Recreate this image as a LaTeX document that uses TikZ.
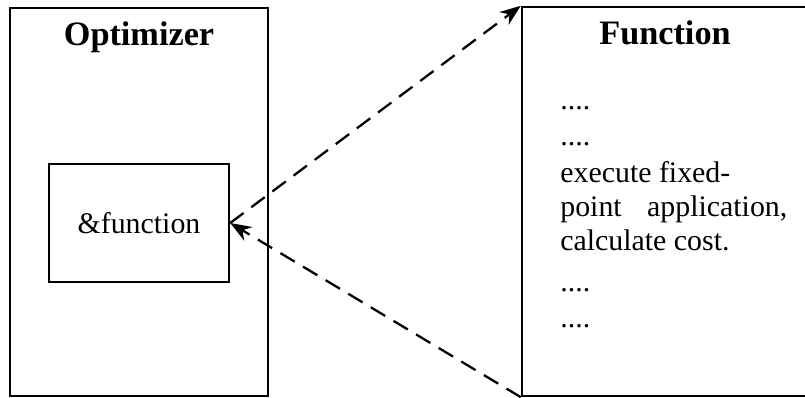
\documentclass[tikz,border=0pt]{standalone}
\usepackage{fontspec}
\setmainfont{Liberation Serif}
\usetikzlibrary{arrows.meta}
\tikzset{
  box/.style={draw,line width=1.4pt,rectangle,inner sep=0pt},
  title/.style={anchor=base,font=\fontsize{19.5}{22}\selectfont\bfseries},
  body/.style={anchor=base west,inner sep=0pt,font=\fontsize{17}{20}\selectfont},
  call/.style={line width=1.3pt,dash pattern=on 9.5pt off 5.5pt,
    -{Stealth[length=12pt,width=9pt]}}
}
\begin{document}
\begin{tikzpicture}[x=0.02cm,y=-0.02cm]
  \useasboundingbox (0,0) rectangle (805,398);
  % optimizer holding the function pointer
  \node[box,minimum width=5.16cm,minimum height=7.76cm] (opt) at (139,202) {};
  \node[title] (optname) at (139,46) {Optimizer};
  \node[box,minimum width=3.6cm,minimum height=2.36cm,
        font=\fontsize{17}{20}\selectfont] (fptr) at (139,223) {\&function};
  % function body
  \node[box,minimum width=6.2cm,minimum height=7.78cm] (func) at (677,201.5) {};
  \node[title] (funcname) at (665,45) {Function};
  \node[body] (l1) at (560,110) {....};
  \node[body] (l2) at (560,146) {....};
  \node[body] (l3) at (560,183) {execute fixed-};
  \node[body] (l4) at (560,217) {\makebox[4.54cm][s]{point application,}};
  \node[body] (l5) at (560,251) {calculate cost.};
  \node[body] (l6) at (560,292) {....};
  \node[body] (l7) at (560,328) {....};
  \draw[call] (fptr.east) -- (func.north west);
  \draw[call] (func.south west) -- (fptr.east);
\end{tikzpicture}
\end{document}
